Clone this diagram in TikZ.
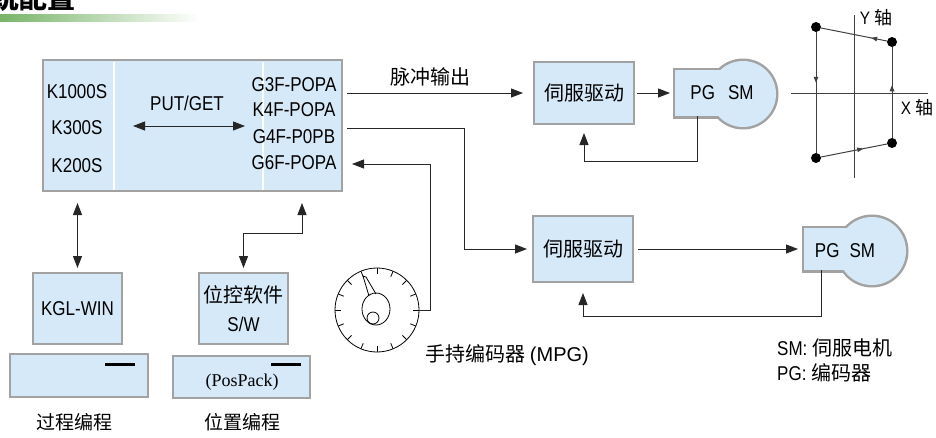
\documentclass[tikz,border=0pt]{standalone}
\usepackage{fontspec}
\setmainfont{Liberation Sans}[FakeStretch=0.85]
\newfontfamily\cjk{Noto Sans CJK SC}
\newfontfamily\widesans{Liberation Sans}
\newfontfamily\pospackfont{Liberation Serif}
\usetikzlibrary{arrows.meta,decorations.markings}
\definecolor{boxblue}{RGB}{214,233,248}
\definecolor{boxgray}{RGB}{162,162,162}
\definecolor{titlegreen}{RGB}{120,180,105}

\begin{document}
\begin{tikzpicture}[
            x=1pt, y=-1pt,
            box/.style={draw=boxgray, line width=2.5pt, fill=boxblue, inner sep=0pt, outer sep=0pt},
            motor/.style={draw=boxgray, line width=5pt, fill=boxblue, inner sep=0pt, outer sep=0pt},
            txt/.style={font=\fontsize{20}{24}\selectfont, inner sep=0pt},
            cjktxt/.style={font=\fontsize{20}{24}\selectfont\cjk, inner sep=0pt},
            line/.style={draw=black!85, line width=1pt},
            arr/.style={line, -{Triangle[length=12pt,width=9pt]}},
            biarr/.style={line, {Triangle[length=12pt,width=9pt]}-{Triangle[length=12pt,width=9pt]}},
            dot/.style={circle, fill=black, inner sep=0pt, minimum size=10pt},
            axisline/.style={draw=black!75, line width=1pt},
            midmark/.style={postaction={decorate}, decoration={markings,
                mark=at position #1 with {\arrow{Triangle[length=6pt,width=4.5pt]}}}}
        ]
        \useasboundingbox (0,0) rectangle (936,437);

        % Heading (cut at the top) and its green bar
        \node[font=\fontsize{28}{30}\selectfont\cjk\bfseries, anchor=base east, inner sep=0pt] (title) at (76,8) {系统配置};
        \shade[left color=titlegreen, right color=white] (0,14) rectangle (200,21);

        % PLC with positioning modules
        \node[box, minimum width=299pt, minimum height=131pt] (plc) at (192.5,125.5) {};
        \draw[white, line width=2pt] (114,61.5) -- (114,189.5);
        \draw[white, line width=2pt] (263,61.5) -- (263,189.5);
        \node[txt] (k1000) at (77,92) {K1000S};
        \node[txt] (k300) at (77,128) {K300S};
        \node[txt] (k200) at (77,166) {K200S};
        \node[txt] (putget) at (187,103) {PUT/GET};
        \coordinate (pgl) at (133,126);
        \coordinate (pgr) at (245,126);
        \draw[biarr] (pgl) -- (pgr);
        \node[txt] (g3f) at (294,85) {G3F-POPA};
        \node[txt] (k4f) at (294,110) {K4F-POPA};
        \node[txt] (g4f) at (294,137) {G4F-P0PB};
        \node[txt] (g6f) at (294,163) {G6F-POPA};

        % Servo drives
        \node[box, minimum width=100pt, minimum height=62pt, cjktxt] (servo1) at (584,93) {伺服驱动};
        \node[box, minimum width=100pt, minimum height=66pt, cjktxt] (servo2) at (583,249) {伺服驱动};

        % Motors with encoder: thick outline first, then refill to keep the outer half
        \node[motor, minimum width=45pt, minimum height=46pt] (motorpg1) at (697.5,93) {};
        \node[motor, circle, minimum size=66pt] (motorsm1) at (743,94) {};
        \fill[boxblue] (motorpg1.south west) rectangle (motorpg1.north east);
        \fill[boxblue] (motorsm1.center) circle[radius=33pt];
        \node[txt] (motortxt1) at (722,93) {PG\hspace{13pt}SM};

        \node[motor, minimum width=46pt, minimum height=42pt] (motorpg2) at (827,249) {};
        \node[motor, circle, minimum size=68pt] (motorsm2) at (872,251) {};
        \fill[boxblue] (motorpg2.south west) rectangle (motorpg2.north east);
        \fill[boxblue] (motorsm2.center) circle[radius=34pt];
        \node[txt] (motortxt2) at (845,251) {PG\hspace{10pt}SM};

        % Pulse output and drive loops
        \draw[arr, shorten <=5pt, shorten >=11pt] (plc.east |- servo1.west) -- (servo1.west);
        \node[cjktxt] (pulse) at (430,77) {脉冲输出};
        \draw[arr, shorten <=3pt, shorten >=5pt] (servo1) -- (motorpg1);
        \coordinate (fb1) at (584,161);
        \draw[arr, shorten >=9pt] (motorpg1.south) |- (fb1) -- (servo1.south);

        \coordinate (bus2) at (464,128);
        \draw[arr, shorten <=5pt, shorten >=6pt] (plc.east |- bus2) -- (bus2) |- (servo2.west);
        \draw[arr, shorten <=5pt, shorten >=6pt] (servo2) -- (motorpg2);
        \coordinate (fb2) at (583,316);
        \draw[arr, shorten >=11pt] ([xshift=-6pt]motorpg2.south) |- (fb2) -- (servo2.south);

        % Manual pulse generator
        \node[circle, draw, line width=0.8pt, minimum size=84pt, inner sep=0pt, outer sep=0pt] (mpg) at (377,310) {};
        \foreach \a in {0,22.5,...,337.5}
            \draw[line width=0.8pt] (mpg.center) ++(\a:42pt) -- ++(\a:-6pt);
        \draw[line width=0.8pt] (376,309) ellipse [x radius=14pt, y radius=16pt];
        \draw[line width=0.8pt] (373,318) circle [radius=6pt];
        \draw[line width=0.8pt] (369,296) -- (363,276) -- (366,277) -- (376,294);
        \node[txt] (mpglabel) at (507,355) {{\cjk 手持编码器} {\widesans (MPG)}};
        \coordinate (mpgbus) at (430,164);
        \draw[arr, shorten >=10pt] (mpg.east) -| (mpgbus) -- (plc.east |- mpgbus);

        % Programming tools
        \node[box, minimum width=89pt, minimum height=71pt, txt] (kgl) at (77.5,308.5) {KGL-WIN};
        \node[box, minimum width=138pt, minimum height=43pt] (mon1) at (79,375.5) {};
        \draw[line width=3pt] (105,364) -- (135,364);
        \node[cjktxt, font=\fontsize{19}{24}\selectfont\cjk] (proc) at (74,422) {过程编程};
        \draw[biarr, shorten <=12pt, shorten >=5pt] (plc.south -| kgl) -- (kgl.north);

        \node[box, minimum width=89pt, minimum height=71pt, txt, align=center, font=\fontsize{20}{29}\selectfont] (posw) at (243.5,308.5) {{\cjk 位控软件}\\S/W};
        \node[box, minimum width=137pt, minimum height=42pt] (mon2) at (241.5,377) {};
        \draw[line width=3pt] (271,364) -- (301,364);
        \node[inner sep=0pt, font=\fontsize{18}{20}\selectfont\pospackfont] (pospack) at (242,382) {(PosPack)};
        \node[cjktxt, font=\fontsize{19}{24}\selectfont\cjk] (posprog) at (242,422) {位置编程};
        \coordinate (posbus) at (302,233);
        \draw[biarr, shorten <=12pt, shorten >=5pt] (plc.south -| posbus) -- (posbus) -| (posw.north);

        % Legend
        \node[txt, anchor=west, align=left, font=\fontsize{20}{25}\selectfont] (legend) at (777,360) {SM: {\cjk 伺服电机}\\PG: {\cjk 编码器}};

        % X-Y path
        \coordinate (ytop) at (854,15);
        \coordinate (ybot) at (854,178);
        \coordinate (xleft) at (791,93);
        \coordinate (xright) at (928,93);
        \draw[axisline] (ytop) -- (ybot);
        \draw[axisline] (xleft) -- (xright);
        \node[txt, font=\fontsize{18}{20}\selectfont] (ylabel) at (876,18) {Y {\cjk 轴}};
        \node[txt, font=\fontsize{18}{20}\selectfont] (xlabel) at (917,108) {X {\cjk 轴}};

        \node[dot] (tl) at (816,27) {};
        \node[dot] (tr) at (892,42) {};
        \node[dot] (br) at (892,143) {};
        \node[dot] (bl) at (816,158) {};
        \draw[axisline, midmark=0.42] (tl) -- (bl);
        \draw[axisline, midmark=0.64] (bl) -- (br);
        \draw[axisline, midmark=0.58] (br) -- (tr);
        \draw[axisline, midmark=0.24] (tr) -- (tl);

    \end{tikzpicture}
\end{document}
